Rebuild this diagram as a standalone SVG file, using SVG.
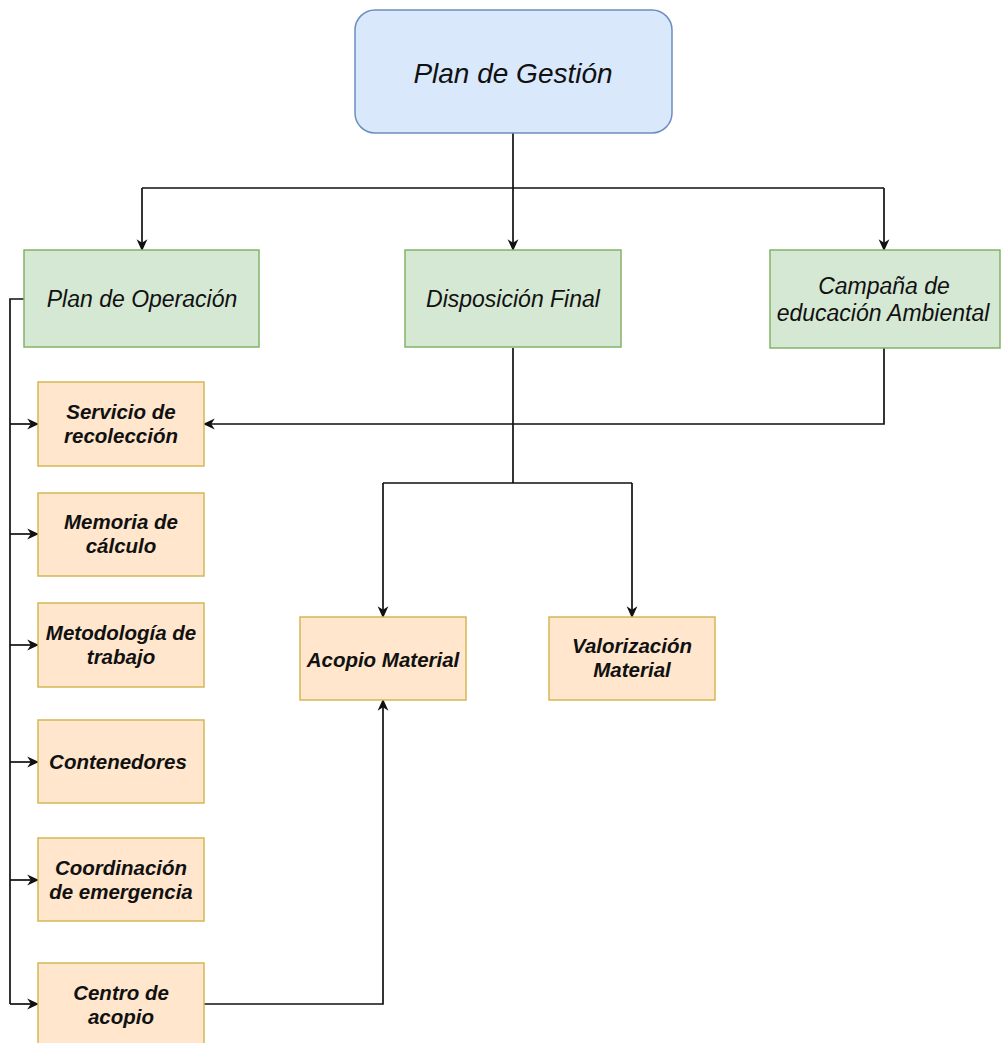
<svg xmlns="http://www.w3.org/2000/svg" width="1002" height="1043" viewBox="0 0 1002 1043">
<defs>
<marker id="arr" viewBox="0 0 10 10" refX="9" refY="5" markerWidth="12" markerHeight="12" markerUnits="userSpaceOnUse" orient="auto">
<path d="M0,0.5 L10,5 L0,9.5 L3,5 Z" fill="#111"/>
</marker>
<style>
.blue{fill:#dae8fc;stroke:#6c8ebf;stroke-width:1.5}
.green{fill:#d5e8d4;stroke:#82b366;stroke-width:1.5}
.orange{fill:#ffe6cc;stroke:#d6b656;stroke-width:1.5}
.t{font-family:"Liberation Sans",Arial,sans-serif;font-style:italic;fill:#111;text-anchor:middle}
.tb{font-size:28px}
.tg{font-size:23px}
.to{font-size:20.5px;font-weight:bold}
.c{fill:none;stroke:#111;stroke-width:1.7}
.ca{fill:none;stroke:#111;stroke-width:1.7;marker-end:url(#arr)}
</style>
</defs>
<rect width="1002" height="1043" fill="#fff"/>
<g id="connectors">
<path class="c" d="M513,133 V188 M142,188 H884"/>
<path class="ca" d="M142,188 V250"/>
<path class="ca" d="M513,188 V250"/>
<path class="ca" d="M884,188 V250"/>
<path class="c" d="M24,299 H10 V1004"/>
<path class="ca" d="M10,424 H38"/>
<path class="ca" d="M10,534 H38"/>
<path class="ca" d="M10,645 H38"/>
<path class="ca" d="M10,762 H38"/>
<path class="ca" d="M10,880 H38"/>
<path class="ca" d="M10,1004 H38"/>
<path class="ca" d="M884,348 V424 H204"/>
<path class="c" d="M513,348 V483 M383,483 H632"/>
<path class="ca" d="M383,483 V617"/>
<path class="ca" d="M632,483 V617"/>
<path class="ca" d="M204,1004 H383 V700"/>
</g>
<g id="plan-gestion"><rect class="blue" x="355" y="10" width="317" height="123" rx="20"/><text class="t tb" x="513" y="83">Plan de Gestión</text></g>
<g id="plan-operacion"><rect class="green" x="24" y="250" width="235" height="97"/><text class="t tg" x="142" y="307">Plan de Operación</text></g>
<g id="disposicion-final"><rect class="green" x="405" y="250" width="216" height="97"/><text class="t tg" x="513" y="307">Disposición Final</text></g>
<g id="campana"><rect class="green" x="770" y="250" width="230" height="98"/><text class="t tg" x="884" y="294">Campaña de</text><text class="t tg" x="883" y="321">educación Ambiental</text></g>
<g id="servicio"><rect class="orange" x="38" y="382" width="166" height="84"/><text class="t to" x="121" y="419">Servicio de</text><text class="t to" x="121" y="443">recolección</text></g>
<g id="memoria"><rect class="orange" x="38" y="493" width="166" height="83"/><text class="t to" x="121" y="529">Memoria de</text><text class="t to" x="121" y="553">cálculo</text></g>
<g id="metodologia"><rect class="orange" x="38" y="603" width="166" height="84"/><text class="t to" x="121" y="640">Metodología de</text><text class="t to" x="121" y="664">trabajo</text></g>
<g id="contenedores"><rect class="orange" x="38" y="720" width="166" height="83"/><text class="t to" x="118" y="769">Contenedores</text></g>
<g id="coordinacion"><rect class="orange" x="38" y="838" width="166" height="83"/><text class="t to" x="121" y="875">Coordinación</text><text class="t to" x="121" y="899">de emergencia</text></g>
<g id="centro-acopio"><rect class="orange" x="38" y="963" width="166" height="84"/><text class="t to" x="121" y="1000">Centro de</text><text class="t to" x="121" y="1024">acopio</text></g>
<g id="acopio-material"><rect class="orange" x="300" y="617" width="166" height="83"/><text class="t to" x="383" y="667">Acopio Material</text></g>
<g id="valorizacion"><rect class="orange" x="549" y="617" width="166" height="83"/><text class="t to" x="632" y="653">Valorización</text><text class="t to" x="632" y="677">Material</text></g>
</svg>
